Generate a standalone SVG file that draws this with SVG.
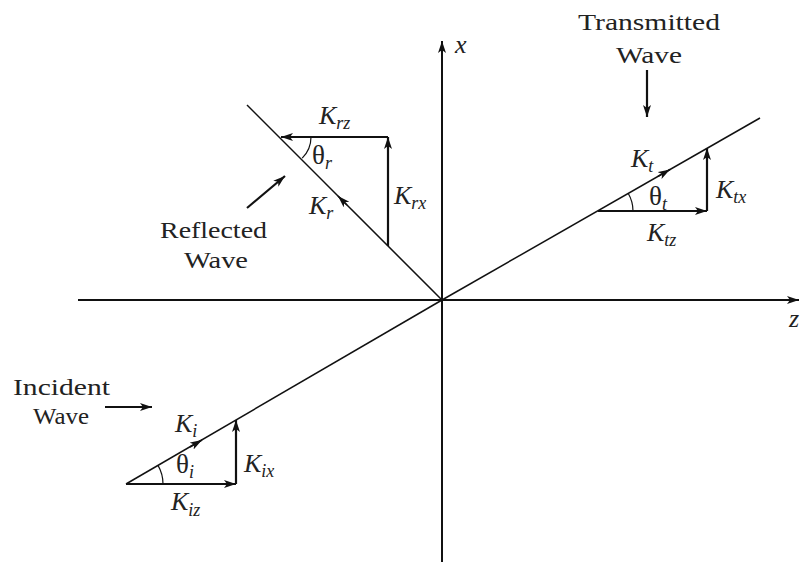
<svg xmlns="http://www.w3.org/2000/svg" width="801" height="563" viewBox="0 0 801 563">
<defs>
<marker id="ah" markerUnits="userSpaceOnUse" markerWidth="13" markerHeight="9" refX="12" refY="4" orient="auto">
<path d="M0,0 L12,4 L0,8 L3,4 z" fill="#111"/>
</marker>
<style>
.ax{stroke:#111;stroke-width:2;fill:none}
.wv{stroke:#111;stroke-width:1.5;fill:none}
.cp{stroke:#111;stroke-width:2.2;fill:none}
.arc{stroke:#111;stroke-width:1.2;fill:none}
.lbl{font-family:"Liberation Serif","Times New Roman",serif;font-size:24px;fill:#222}
.k{font-family:"Liberation Serif","Times New Roman",serif;font-size:26px;font-style:italic;fill:#222}
.th{font-family:"Liberation Serif","Times New Roman",serif;font-size:27px;fill:#222}
.s{font-size:18px;font-style:italic}
</style>
</defs>
<rect width="801" height="563" fill="#fff"/>
<g id="connectors">
<line class="ax" x1="78" y1="300" x2="799" y2="300" marker-end="url(#ah)"/>
<line class="ax" x1="442" y1="562" x2="442" y2="41" marker-end="url(#ah)"/>
<line class="wv" x1="126" y1="484" x2="442" y2="300"/>
<line class="wv" x1="442" y1="300" x2="760" y2="118"/>
<line class="wv" x1="247" y1="105" x2="442" y2="300"/>
<line class="wv" x1="190" y1="447" x2="202" y2="440" marker-end="url(#ah)"/>
<line class="wv" x1="658" y1="176.4" x2="670" y2="169.5" marker-end="url(#ah)"/>
<line class="wv" x1="347" y1="205" x2="338" y2="196" marker-end="url(#ah)"/>
<line class="cp" x1="126" y1="484" x2="236" y2="484" marker-end="url(#ah)"/>
<line class="cp" x1="236" y1="484" x2="236" y2="420" marker-end="url(#ah)"/>
<line class="cp" x1="598" y1="211" x2="707" y2="211" marker-end="url(#ah)"/>
<line class="cp" x1="707" y1="211" x2="707" y2="148" marker-end="url(#ah)"/>
<line class="cp" x1="388" y1="137" x2="281" y2="137" marker-end="url(#ah)"/>
<line class="cp" x1="388" y1="246" x2="388" y2="137" marker-end="url(#ah)"/>
<line class="cp" x1="105" y1="407" x2="152" y2="407" marker-end="url(#ah)"/>
<line class="cp" x1="247" y1="208" x2="285" y2="176" marker-end="url(#ah)"/>
<line class="cp" x1="647" y1="70" x2="647" y2="117" marker-end="url(#ah)"/>
<path class="arc" d="M163,484 A37,37 0 0 0 158,465.4"/>
<path class="arc" d="M633,211 A35,35 0 0 0 628.3,193.5"/>
<path class="arc" d="M311,137 A30,30 0 0 1 302.2,158.2"/>
</g>
<g id="axis-labels">
<text class="k" x="455" y="53">x</text>
<text class="k" x="789" y="327">z</text>
</g>
<g id="incident">
<text class="lbl" x="13" y="395" textLength="97" lengthAdjust="spacingAndGlyphs">Incident</text>
<text class="lbl" x="33" y="424" textLength="56" lengthAdjust="spacingAndGlyphs">Wave</text>
<text class="k" x="175" y="432">K<tspan class="s" dy="5">i</tspan></text>
<text class="th" x="176" y="473">θ<tspan class="s" dy="5">i</tspan></text>
<text class="k" x="244" y="472">K<tspan class="s" dy="5">ix</tspan></text>
<text class="k" x="171" y="510">K<tspan class="s" dy="6">iz</tspan></text>
</g>
<g id="reflected">
<text class="lbl" x="160" y="238" textLength="107" lengthAdjust="spacingAndGlyphs">Reflected</text>
<text class="lbl" x="184" y="268" textLength="64" lengthAdjust="spacingAndGlyphs">Wave</text>
<text class="k" x="319" y="124">K<tspan class="s" dy="5">rz</tspan></text>
<text class="th" x="312" y="164">θ<tspan class="s" dy="5">r</tspan></text>
<text class="k" x="309" y="214">K<tspan class="s" dy="5">r</tspan></text>
<text class="k" x="394" y="204">K<tspan class="s" dy="5">rx</tspan></text>
</g>
<g id="transmitted">
<text class="lbl" x="578" y="30" textLength="142" lengthAdjust="spacingAndGlyphs">Transmitted</text>
<text class="lbl" x="616" y="63" textLength="66" lengthAdjust="spacingAndGlyphs">Wave</text>
<text class="k" x="631" y="167">K<tspan class="s" dy="5">t</tspan></text>
<text class="th" x="649" y="205">θ<tspan class="s" dy="5">t</tspan></text>
<text class="k" x="716" y="198">K<tspan class="s" dy="5">tx</tspan></text>
<text class="k" x="647" y="241">K<tspan class="s" dy="5">tz</tspan></text>
</g>
</svg>
